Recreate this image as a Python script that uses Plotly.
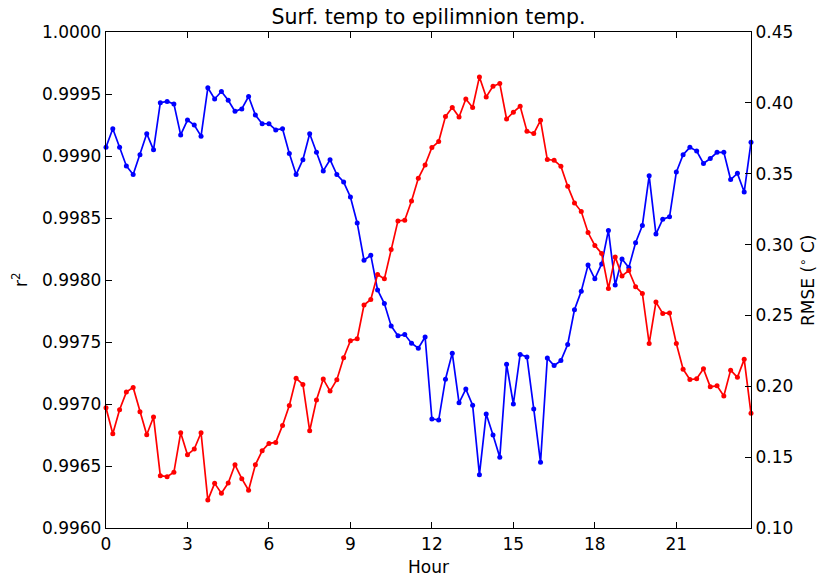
import plotly.graph_objects as go

hours = [i * 0.25 for i in range(96)]

r2 = [
    0.99907, 0.99922, 0.99907, 0.99892, 0.99885, 0.99901, 0.99918, 0.99905,
    0.99943, 0.99944, 0.99942, 0.99917, 0.99929, 0.99925, 0.99916, 0.99955,
    0.99946, 0.99952, 0.99945, 0.99936, 0.99938, 0.99948, 0.99933, 0.99926,
    0.99926, 0.99921, 0.99922, 0.99902, 0.99885, 0.99897, 0.99918, 0.99903,
    0.99888, 0.99897, 0.99885, 0.99879, 0.99867, 0.99846, 0.99816, 0.99820,
    0.99792, 0.99781, 0.99763, 0.99755, 0.99756, 0.99749, 0.99745, 0.99754,
    0.99688, 0.99687, 0.99720, 0.99741, 0.99701, 0.99712, 0.99699, 0.99643,
    0.99692, 0.99675, 0.99657, 0.99732, 0.99700, 0.99740, 0.99738, 0.99696,
    0.99653, 0.99737, 0.99731, 0.99735, 0.99748, 0.99776, 0.99791, 0.99812,
    0.99801, 0.99813, 0.99840, 0.99796, 0.99817, 0.99810, 0.99830, 0.99844,
    0.99884, 0.99837, 0.99849, 0.99851, 0.99887, 0.99901, 0.99907, 0.99904,
    0.99894, 0.99898, 0.99903, 0.99903, 0.99881, 0.99886, 0.99871, 0.99911,
]

rmse = [
    0.1848, 0.1665, 0.1834, 0.1959, 0.1992, 0.1820, 0.1658, 0.1783,
    0.1369, 0.1362, 0.1393, 0.1672, 0.1517, 0.1557, 0.1672, 0.1197,
    0.1315, 0.1245, 0.1317, 0.1446, 0.1348, 0.1266, 0.1446, 0.1545,
    0.1597, 0.1604, 0.1724, 0.1865, 0.2056, 0.2013, 0.1686, 0.1903,
    0.2051, 0.1966, 0.2046, 0.2201, 0.2321, 0.2335, 0.2573, 0.2613,
    0.2789, 0.2758, 0.2965, 0.3167, 0.3172, 0.3308, 0.3468, 0.3562,
    0.3685, 0.3727, 0.3903, 0.3967, 0.3900, 0.4027, 0.3967, 0.4183,
    0.4042, 0.4117, 0.4136, 0.3886, 0.3934, 0.3976, 0.3800, 0.3783,
    0.3877, 0.3600, 0.3595, 0.3553, 0.3412, 0.3294, 0.3233, 0.3085,
    0.2994, 0.2937, 0.2690, 0.2913, 0.2779, 0.2817, 0.2702, 0.2655,
    0.2302, 0.2594, 0.2514, 0.2518, 0.2302, 0.2121, 0.2048, 0.2053,
    0.2123, 0.1997, 0.2003, 0.1931, 0.2114, 0.2063, 0.2190, 0.1809,
]

x_ticks = [0, 3, 6, 9, 12, 15, 18, 21]
r2_ticks = [0.9960, 0.9965, 0.9970, 0.9975, 0.9980, 0.9985, 0.9990, 0.9995, 1.0000]
rmse_ticks = [0.10, 0.15, 0.20, 0.25, 0.30, 0.35, 0.40, 0.45]

FONT = "DejaVu Sans"
TICK_SIZE = 17
W, H = 820, 581
ML, MT = 106, 32
PR, PB = 751, 528
MR, MB = W - PR, H - PB
PW, PH = PR - ML, PB - MT

fig = go.Figure()
fig.add_trace(go.Scatter(
    x=hours, y=r2, mode="lines+markers",
    line=dict(color="#0000ff", width=1.7),
    marker=dict(color="#0000ff", size=5),
    yaxis="y", showlegend=False, cliponaxis=False,
))
fig.add_trace(go.Scatter(
    x=hours, y=rmse, mode="lines+markers",
    line=dict(color="#ff0000", width=1.7),
    marker=dict(color="#ff0000", size=5),
    yaxis="y2", showlegend=False, cliponaxis=False,
))

axis_common = dict(
    showgrid=False, zeroline=False, showline=True, linecolor="black", linewidth=1.3,
    ticks="inside", ticklen=6, tickwidth=1, tickcolor="black",
    tickfont=dict(family=FONT, size=TICK_SIZE, color="black"),
    automargin=False,
)

fig.update_layout(
    width=W, height=H,
    margin=dict(l=ML, r=MR, t=MT, b=MB, autoexpand=False),
    paper_bgcolor="white", plot_bgcolor="white",
    font=dict(family=FONT, color="black"),
    title=dict(text="Surf. temp to epilimnion temp.", x=(ML + PW / 2) / W,
               xanchor="center", y=1 - 17 / H, yref="container", yanchor="middle",
               font=dict(family=FONT, size=20.5, color="black")),
    xaxis=dict(
        range=[0, 23.75], tickvals=x_ticks, ticktext=[str(t) for t in x_ticks],
        mirror="ticks",
        **axis_common,
    ),
    yaxis=dict(
        range=[0.996, 1.000], tickvals=r2_ticks,
        ticktext=[f"{t:.4f}" for t in r2_ticks], side="left",
        **axis_common,
    ),
    yaxis2=dict(
        range=[0.10, 0.45], tickvals=rmse_ticks,
        ticktext=[f"{t:.2f}" for t in rmse_ticks], side="right", overlaying="y",
        **axis_common,
    ),
    annotations=[
        dict(text="Hour", xref="paper", yref="paper", x=0.5,
             y=-(567 - PB) / PH,
             xanchor="center", yanchor="middle", showarrow=False,
             font=dict(family=FONT, size=TICK_SIZE, color="black")),
        dict(text="r<sup>2</sup>", xref="paper", yref="paper",
             x=-(ML - 20) / PW, y=0.5, xanchor="center", yanchor="middle",
             textangle=-90, showarrow=False,
             font=dict(family=FONT, size=TICK_SIZE, color="black")),
        dict(text="RMSE (<sup>∘</sup> C)", xref="paper", yref="paper",
             x=1 + (807 - PR) / PW, y=0.5, xanchor="center", yanchor="middle",
             textangle=-90, showarrow=False,
             font=dict(family=FONT, size=TICK_SIZE, color="black")),
    ],
)

fig.write_html(
    "out.html",
    config={"displayModeBar": False},
    post_script="document.body.style.margin='0';document.body.style.overflow='hidden';",
)
